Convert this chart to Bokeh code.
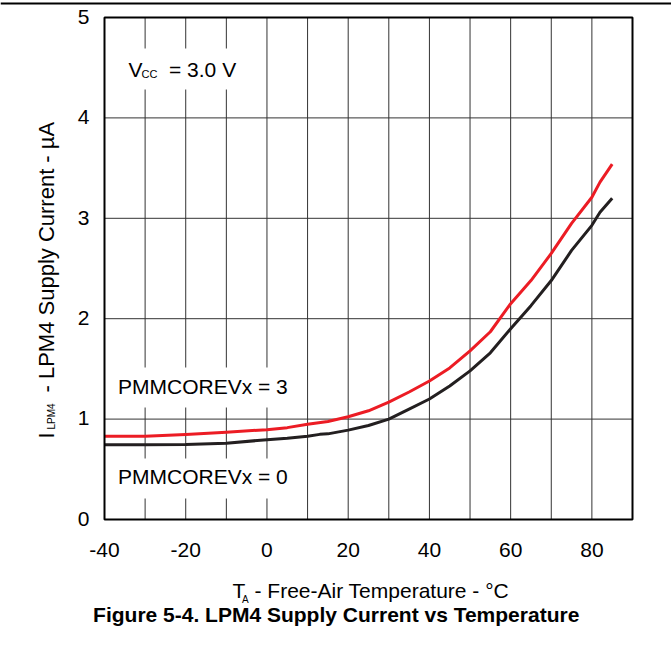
import math
from bokeh.plotting import figure
from bokeh.models import Range1d, Span
from bokeh.core.properties import value
from bokeh.embed import file_html
from bokeh.resources import INLINE

# ---- data ----
temp_red = [-40, -30, -20, -10, 0, 5, 10, 15, 20, 25, 30, 35, 40, 45, 50, 55, 60, 65, 70, 75, 80, 82, 85]
red_vals = [0.83, 0.83, 0.847, 0.87, 0.895, 0.915, 0.948, 0.976, 1.023, 1.083, 1.17, 1.27, 1.38, 1.51,
            1.68, 1.87, 2.15, 2.38, 2.65, 2.95, 3.21, 3.36, 3.54]
temp_black = [-40, -30, -20, -10, 0, 5, 10, 13, 15, 20, 25, 30, 35, 40, 45, 50, 55, 60, 65, 70, 75, 80, 82, 85]
black_vals = [0.745, 0.745, 0.748, 0.76, 0.795, 0.81, 0.83, 0.848, 0.853, 0.89, 0.936, 1.0, 1.1, 1.2, 1.33,
              1.48, 1.66, 1.9, 2.13, 2.38, 2.68, 2.93, 3.06, 3.2]

x_limits = [-40, 90]
y_limits = [0, 5]
x_ticks = [-40, -20, 0, 20, 40, 60, 80]
y_ticks = [0, 1, 2, 3, 4, 5]
x_grid = [-30, -20, -10, 0, 10, 20, 30, 40, 50, 60, 70, 80]
y_grid = [1, 2, 3, 4]
x_tick_labels = [str(t) for t in x_ticks]
y_tick_labels = [str(t) for t in y_ticks]

FONT = value("Liberation Sans")
RED = "#ec1c24"
BLACK = "#231f20"
GRID = "#333333"

# ---- layout (page pixels; the Bokeh page has no body margin) ----
W, H = 671, 640
BOX_L, BOX_R, BOX_T, BOX_B = 104, 632, 17, 519
sx = (BOX_R - BOX_L) / (x_limits[1] - x_limits[0])
sy = (BOX_B - BOX_T) / (y_limits[1] - y_limits[0])
x0 = x_limits[0] - BOX_L / sx
y_top = y_limits[1] + BOX_T / sy
BASE = 0.39  # rendered baseline sits this many em below the requested one


def X(px):
    return x0 + px / sx


def Y(py):
    return y_top - py / sy


p = figure(width=W, height=H, x_range=Range1d(X(0), X(W)), y_range=Range1d(Y(H), Y(0)),
           output_backend="svg", toolbar_location=None,
           x_axis_location=None, y_axis_location=None, min_border=0)
p.outline_line_color = None
p.background_fill_color = "white"
p.border_fill_color = "white"
p.grid.visible = False

# grid lines from the tick arrays
p.segment(x0=x_grid, x1=x_grid, y0=[y_limits[0]] * len(x_grid), y1=[y_limits[1]] * len(x_grid),
          line_color=GRID, line_width=1)
p.segment(x0=[x_limits[0]] * len(y_grid), x1=[x_limits[1]] * len(y_grid), y0=y_grid, y1=y_grid,
          line_color=GRID, line_width=1)

# data curves
p.line(temp_red, red_vals, line_color=RED, line_width=3, line_join="round")
p.line(temp_black, black_vals, line_color=BLACK, line_width=3, line_join="round")

# white boxes behind in-plot annotations
boxes = [(120, 235, 48, 89), (112, 297, 367, 407), (106, 297, 458, 498)]
p.quad(left=[X(b[0]) for b in boxes], right=[X(b[1]) for b in boxes],
       top=[Y(b[2]) for b in boxes], bottom=[Y(b[3]) for b in boxes],
       fill_color="white", line_color=None)

# plot box
p.quad(left=[x_limits[0]], right=[x_limits[1]], bottom=[y_limits[0]], top=[y_limits[1]],
       fill_color=None, line_color="black", line_width=2)

# tick labels
p.text(x=x_ticks, y=[y_limits[0]] * len(x_ticks), text=x_tick_labels, y_offset=39 - BASE * 21,
       text_align="center", text_baseline="alphabetic", text_font=FONT,
       text_font_size="21px", text_color="black")
p.text(x=[x_limits[0]] * len(y_ticks), y=y_ticks, text=y_tick_labels, x_offset=-15,
       y_offset=7.5 - BASE * 21,
       text_align="right", text_baseline="alphabetic", text_font=FONT,
       text_font_size="21px", text_color="black")


def txt(s, px, py, size, angle=0.0, align="left", style="normal"):
    if angle:
        px -= BASE * size
    else:
        py -= BASE * size
    p.text(x=[X(px)], y=[Y(py)], text=[s], angle=angle, text_align=align,
           text_baseline="alphabetic", text_font=FONT, text_font_size=f"{size}px",
           text_font_style=style, text_color="black")


txt("V", 128, 77.3, 21)
txt("CC", 141, 77.3, 11)
txt("= 3.0 V", 168.5, 77.3, 21)
txt("PMMCOREVx = 3", 117.5, 394, 21)
txt("PMMCOREVx = 0", 117.5, 484.3, 21)

# x-axis title
txt("T", 232, 598.3, 21)
txt("A", 241.5, 603.3, 10)
txt("- Free-Air Temperature - °C", 254, 598.3, 21)

# y-axis title (rotated)
txt("I", 55, 438, 22, angle=math.pi / 2)
txt("LPM4", 55, 429, 10, angle=math.pi / 2)
txt("- LPM4 Supply Current - µA", 55, 392, 22, angle=math.pi / 2)

# caption
txt("Figure 5-4. LPM4 Supply Current vs Temperature", 335.7, 621.7, 21, align="center", style="bold")

# page header rule
p.add_layout(Span(location=Y(3), dimension="width", line_color="black", line_width=2))

open("out.html", "w").write(file_html(p, INLINE))
